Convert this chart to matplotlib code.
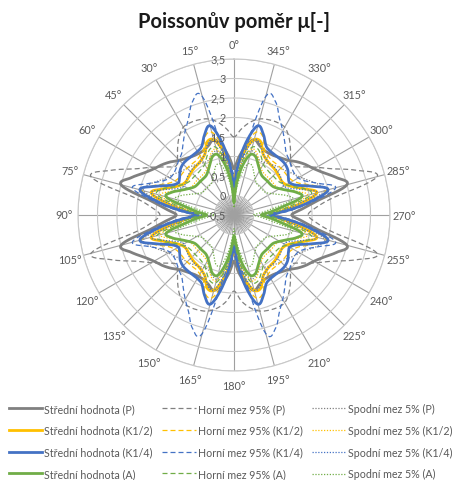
import numpy as np
import matplotlib
matplotlib.use('Agg')
import matplotlib.pyplot as plt

plt.rcParams['font.family'] = ['Lato', 'DejaVu Sans']

# ---------------- data ----------------
angles_deg = list(range(0, 360, 5))
label_angles = list(range(0, 360, 15))
angle_labels = [f"{a}°" for a in label_angles]
r_ticks = [-0.5, 0, 0.5, 1, 1.5, 2, 2.5, 3, 3.5]
r_tick_labels = ["-0,5", "0", "0,5", "1", "1,5", "2", "2,5", "3", "3,5"]

p_mean = [0.70, 1.00, 1.30, 1.50, 1.40, 1.33, 1.32, 1.34, 1.40, 1.48, 1.62, 1.75, 1.87, 2.05, 2.30, 2.50, 1.70, 1.25, 0.98,
          1.25, 1.70, 2.50, 2.30, 2.05, 1.87, 1.75, 1.62, 1.48, 1.40, 1.34, 1.32, 1.33, 1.40, 1.50, 1.30, 1.00, 0.68,
          1.00, 1.30, 1.50, 1.40, 1.33, 1.32, 1.34, 1.40, 1.48, 1.62, 1.75, 1.87, 2.05, 2.30, 2.50, 1.70, 1.25, 0.98,
          1.25, 1.70, 2.50, 2.30, 2.05, 1.87, 1.75, 1.62, 1.48, 1.40, 1.34, 1.32, 1.33, 1.40, 1.50, 1.30, 1.00]
p_upper = [1.50, 1.72, 1.92, 2.05, 2.10, 2.12, 2.10, 1.95, 1.75, 1.55, 1.45, 1.65, 1.95, 2.30, 2.85, 3.30, 2.10, 1.60, 1.40,
           1.60, 2.10, 3.30, 2.85, 2.30, 1.95, 1.65, 1.45, 1.55, 1.75, 1.95, 2.10, 2.12, 2.10, 2.05, 1.92, 1.72, 1.45,
           1.72, 1.92, 2.05, 2.10, 2.12, 2.10, 1.95, 1.75, 1.55, 1.45, 1.65, 1.95, 2.30, 2.85, 3.30, 2.10, 1.60, 1.40,
           1.60, 2.10, 3.30, 2.85, 2.30, 1.95, 1.65, 1.45, 1.55, 1.75, 1.95, 2.10, 2.12, 2.10, 2.05, 1.92, 1.72]
p_lower = [0.20, 0.55, 0.95, 1.20, 1.15, 1.05, 1.05, 1.10, 1.15, 1.20, 1.25, 1.35, 1.45, 1.60, 1.80, 1.90, 1.35, 0.80, 0.55,
           0.80, 1.35, 1.90, 1.80, 1.60, 1.45, 1.35, 1.25, 1.20, 1.15, 1.10, 1.05, 1.05, 1.15, 1.20, 0.95, 0.55, 0.20,
           0.55, 0.95, 1.20, 1.15, 1.05, 1.05, 1.10, 1.15, 1.20, 1.25, 1.35, 1.45, 1.60, 1.80, 1.90, 1.35, 0.80, 0.55,
           0.80, 1.35, 1.90, 1.80, 1.60, 1.45, 1.35, 1.25, 1.20, 1.15, 1.10, 1.05, 1.05, 1.15, 1.20, 0.95, 0.55]
k12_mean = [0.35, 0.80, 1.20, 1.50, 1.50, 1.25, 1.15, 1.10, 1.08, 1.05, 1.02, 1.00, 1.05, 1.20, 1.45, 1.70, 1.25, 0.75, 0.45,
            0.75, 1.25, 1.70, 1.45, 1.20, 1.05, 1.00, 1.02, 1.05, 1.08, 1.10, 1.15, 1.25, 1.50, 1.50, 1.20, 0.80, 0.40,
            0.80, 1.20, 1.50, 1.50, 1.25, 1.15, 1.10, 1.08, 1.05, 1.02, 1.00, 1.05, 1.20, 1.45, 1.70, 1.25, 0.75, 0.45,
            0.75, 1.25, 1.70, 1.45, 1.20, 1.05, 1.00, 1.02, 1.05, 1.08, 1.10, 1.15, 1.25, 1.50, 1.50, 1.20, 0.80]
k12_upper = [0.45, 0.95, 1.35, 1.70, 1.65, 1.35, 1.25, 1.20, 1.20, 1.20, 1.20, 1.20, 1.25, 1.40, 1.70, 1.95, 1.45, 0.90, 0.55,
             0.90, 1.45, 1.95, 1.70, 1.40, 1.25, 1.20, 1.20, 1.20, 1.20, 1.20, 1.25, 1.35, 1.65, 1.70, 1.35, 0.95, 0.50,
             0.95, 1.35, 1.70, 1.65, 1.35, 1.25, 1.20, 1.20, 1.20, 1.20, 1.20, 1.25, 1.40, 1.70, 1.95, 1.45, 0.90, 0.55,
             0.90, 1.45, 1.95, 1.70, 1.40, 1.25, 1.20, 1.20, 1.20, 1.20, 1.20, 1.25, 1.35, 1.65, 1.70, 1.35, 0.95]
k12_lower = [0.10, 0.55, 0.95, 1.25, 1.20, 1.00, 0.88, 0.82, 0.80, 0.80, 0.80, 0.80, 0.85, 1.00, 1.25, 1.45, 1.00, 0.55, 0.25,
             0.55, 1.00, 1.45, 1.25, 1.00, 0.85, 0.80, 0.80, 0.80, 0.80, 0.82, 0.88, 1.00, 1.20, 1.25, 0.95, 0.55, 0.15,
             0.55, 0.95, 1.25, 1.20, 1.00, 0.88, 0.82, 0.80, 0.80, 0.80, 0.80, 0.85, 1.00, 1.25, 1.45, 1.00, 0.55, 0.25,
             0.55, 1.00, 1.45, 1.25, 1.00, 0.85, 0.80, 0.80, 0.80, 0.80, 0.82, 0.88, 1.00, 1.20, 1.25, 0.95, 0.55]
k14_mean = [0.25, 0.85, 1.45, 1.87, 1.70, 1.45, 1.38, 1.36, 1.36, 1.35, 1.30, 1.20, 1.15, 1.30, 1.65, 2.00, 1.50, 0.90, 0.42,
            0.90, 1.50, 2.00, 1.65, 1.30, 1.15, 1.20, 1.30, 1.35, 1.36, 1.36, 1.38, 1.45, 1.70, 1.87, 1.45, 0.85, 0.30,
            0.85, 1.45, 1.87, 1.70, 1.45, 1.38, 1.36, 1.36, 1.35, 1.30, 1.20, 1.15, 1.30, 1.65, 2.00, 1.50, 0.90, 0.42,
            0.90, 1.50, 2.00, 1.65, 1.30, 1.15, 1.20, 1.30, 1.35, 1.36, 1.36, 1.38, 1.45, 1.70, 1.87, 1.45, 0.85]
k14_upper = [0.55, 0.85, 1.20, 2.65, 2.60, 2.25, 2.00, 1.77, 1.58, 1.50, 1.42, 1.38, 1.40, 1.55, 1.85, 2.20, 1.60, 1.00, 0.55,
             1.00, 1.60, 2.20, 1.85, 1.55, 1.40, 1.38, 1.42, 1.50, 1.58, 1.77, 2.00, 2.25, 2.60, 2.65, 1.20, 0.85, 0.55,
             0.85, 1.20, 2.65, 2.60, 2.25, 2.00, 1.77, 1.58, 1.50, 1.42, 1.38, 1.40, 1.55, 1.85, 2.20, 1.60, 1.00, 0.55,
             1.00, 1.60, 2.20, 1.85, 1.55, 1.40, 1.38, 1.42, 1.50, 1.58, 1.77, 2.00, 2.25, 2.60, 2.65, 1.20, 0.85]
k14_lower = [0.10, 0.60, 1.10, 1.50, 1.45, 1.25, 1.15, 1.10, 1.10, 1.08, 1.05, 1.00, 0.98, 1.10, 1.40, 1.70, 1.20, 0.70, 0.30,
             0.70, 1.20, 1.70, 1.40, 1.10, 0.98, 1.00, 1.05, 1.08, 1.10, 1.10, 1.15, 1.25, 1.45, 1.50, 1.10, 0.60, 0.10,
             0.60, 1.10, 1.50, 1.45, 1.25, 1.15, 1.10, 1.10, 1.08, 1.05, 1.00, 0.98, 1.10, 1.40, 1.70, 1.20, 0.70, 0.30,
             0.70, 1.20, 1.70, 1.40, 1.10, 0.98, 1.00, 1.05, 1.08, 1.10, 1.10, 1.15, 1.25, 1.45, 1.50, 1.10, 0.60]
a_mean = [-0.15, 0.35, 0.80, 1.10, 1.10, 0.95, 0.82, 0.74, 0.72, 0.72, 0.72, 0.75, 0.85, 1.00, 1.20, 1.30, 0.80, 0.45, 0.20,
          0.45, 0.80, 1.30, 1.20, 1.00, 0.85, 0.75, 0.72, 0.72, 0.72, 0.74, 0.82, 0.95, 1.10, 1.10, 0.80, 0.40, 0.03,
          0.35, 0.80, 1.10, 1.10, 0.95, 0.82, 0.74, 0.72, 0.72, 0.72, 0.75, 0.85, 1.00, 1.20, 1.30, 0.80, 0.45, 0.20,
          0.45, 0.80, 1.30, 1.20, 1.00, 0.85, 0.75, 0.72, 0.72, 0.72, 0.74, 0.82, 0.95, 1.10, 1.10, 0.80, 0.35]
a_upper = [0.05, 0.55, 1.00, 1.30, 1.30, 1.15, 1.00, 0.95, 0.92, 0.92, 0.92, 0.95, 1.05, 1.20, 1.45, 1.55, 1.05, 0.65, 0.40,
           0.65, 1.05, 1.55, 1.45, 1.20, 1.05, 0.95, 0.92, 0.92, 0.92, 0.95, 1.00, 1.15, 1.30, 1.30, 1.00, 0.55, 0.15,
           0.55, 1.00, 1.30, 1.30, 1.15, 1.00, 0.95, 0.92, 0.92, 0.92, 0.95, 1.05, 1.20, 1.45, 1.55, 1.05, 0.65, 0.40,
           0.65, 1.05, 1.55, 1.45, 1.20, 1.05, 0.95, 0.92, 0.92, 0.92, 0.95, 1.00, 1.15, 1.30, 1.30, 1.00, 0.55]
a_lower = [-0.30, 0.15, 0.55, 0.85, 0.85, 0.70, 0.58, 0.50, 0.48, 0.48, 0.48, 0.50, 0.60, 0.75, 0.95, 1.05, 0.55, 0.20, 0.00,
           0.20, 0.55, 1.05, 0.95, 0.75, 0.60, 0.50, 0.48, 0.48, 0.48, 0.50, 0.58, 0.70, 0.85, 0.85, 0.55, 0.15, -0.15,
           0.15, 0.55, 0.85, 0.85, 0.70, 0.58, 0.50, 0.48, 0.48, 0.48, 0.50, 0.60, 0.75, 0.95, 1.05, 0.55, 0.20, 0.00,
           0.20, 0.55, 1.05, 0.95, 0.75, 0.60, 0.50, 0.48, 0.48, 0.48, 0.50, 0.58, 0.70, 0.85, 0.85, 0.55, 0.15]

series_names = ["Střední hodnota (P)", "Horní mez 95% (P)", "Spodní mez 5% (P)",
                "Střední hodnota (K1/2)", "Horní mez 95% (K1/2)", "Spodní mez 5% (K1/2)",
                "Střední hodnota (K1/4)", "Horní mez 95% (K1/4)", "Spodní mez 5% (K1/4)",
                "Střední hodnota (A)", "Horní mez 95% (A)", "Spodní mez 5% (A)"]
series_values = [p_mean, p_upper, p_lower, k12_mean, k12_upper, k12_lower,
                 k14_mean, k14_upper, k14_lower, a_mean, a_upper, a_lower]

# ---------------- style ----------------
group_colors = ['#808080', '#FFC000', '#4472C4', '#70AD47']
kind_styles = [dict(lw=2.0, ls='-'),
               dict(lw=0.9, ls=(0, (4.0, 2.4))),
               dict(lw=0.9, ls=(0, (1.0, 1.3)))]


def smooth_closed(theta_deg, vals, steps=8):
    """Excel-like smoothed line: closed Catmull-Rom curve drawn through the points."""
    t = np.deg2rad(np.asarray(theta_deg, float))
    v = np.asarray(vals, float)
    n = len(v)
    xs, ys = [], []
    s = np.linspace(0, 1, steps, endpoint=False)
    for i in range(n):
        p0, p1, p2, p3 = v[i - 1], v[i], v[(i + 1) % n], v[(i + 2) % n]
        t1 = t[i]
        t2 = t[(i + 1) % n] if i + 1 < n else t[0] + 2 * np.pi
        seg = 0.5 * ((2 * p1) + (-p0 + p2) * s + (2 * p0 - 5 * p1 + 4 * p2 - p3) * s ** 2
                     + (-p0 + 3 * p1 - 3 * p2 + p3) * s ** 3)
        xs.append(t1 + (t2 - t1) * s)
        ys.append(seg)
    xs = np.concatenate(xs + [[t[0] + 2 * np.pi]])
    ys = np.concatenate(ys + [[v[0]]])
    return xs, ys


fig = plt.figure(figsize=(4.6, 4.81), dpi=100)
cx, cy, R = 234, 216, 156
W, H = 460, 481
ax = fig.add_axes([(cx - R) / W, (H - cy - R) / H, 2 * R / W, 2 * R / H], projection='polar')
ax.set_theta_zero_location('N')
ax.set_theta_direction(1)
ax.set_ylim(-0.5, 3.5)
ax.set_yticks(r_ticks)
ax.set_yticklabels([])
ax.set_xticks(np.deg2rad(label_angles))
ax.set_xticklabels([])
ax.tick_params(length=0)
ax.yaxis.grid(True, color='#C8C8C8', lw=0.8)
ax.xaxis.grid(True, color='#A0A0A0', lw=0.8)
ax.spines['polar'].set_color('#C8C8C8')
ax.spines['polar'].set_linewidth(0.8)
ax.set_facecolor('white')

# minor spokes near the centre
for a in angles_deg:
    if a % 15:
        ax.plot([np.deg2rad(a)] * 2, [-0.5, 0.0], color='#A0A0A0', lw=0.6, zorder=1)

handles = []
for i, (name, vals) in enumerate(zip(series_names, series_values)):
    color = group_colors[i // 3]
    st = kind_styles[i % 3]
    th, rr = smooth_closed(angles_deg, vals)
    ln, = ax.plot(th, rr, color=color, lw=st['lw'], ls=st['ls'],
                  zorder=3 + i, solid_joinstyle='round', label=name)
    handles.append(ln)

# angle labels
for a, lab in zip(label_angles, angle_labels):
    ax.text(np.deg2rad(a), 3.86, lab, ha='center', va='center', fontsize=7.8, color='#595959')

# radial labels along the 0 degree spoke
for r, lab in zip(r_ticks, r_tick_labels):
    ax.annotate(lab, xy=(0, r), xytext=(-6, 0), textcoords='offset points',
                ha='right', va='center', fontsize=7.8, color='#595959', zorder=20)

fig.text(cx / W, 1 - 22 / H, "Poissonův poměr μ[-]", ha='center', va='center',
         fontsize=14.5, fontweight='bold', color='#1a1a1a')

# legend: Excel fills row by row, matplotlib column by column
order = [0, 3, 6, 9, 1, 4, 7, 10, 2, 5, 8, 11]
leg = fig.legend([handles[k] for k in order], [series_names[k] for k in order],
                 ncol=3, loc='upper left', bbox_to_anchor=(9 / W, 1 - 404 / H),
                 frameon=False, fontsize=7.7, handlelength=3.1, handletextpad=0.2,
                 columnspacing=0.9, labelspacing=1.0, borderpad=0, borderaxespad=0)
for t in leg.get_texts():
    t.set_color('#595959')

fig.savefig('out.png', dpi=100)
